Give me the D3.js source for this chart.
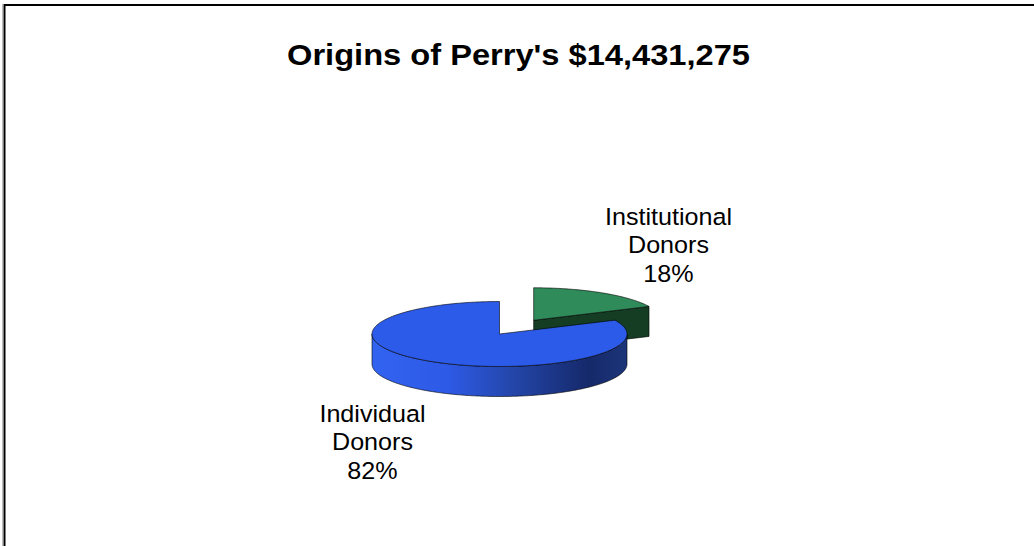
<!DOCTYPE html>
<html>
<head>
<meta charset="utf-8">
<script src="https://cdn.jsdelivr.net/npm/d3@7"></script>
<style>
  html, body { margin: 0; padding: 0; background: #fff; }
  svg { display: block; }
  text { font-family: "Liberation Sans", Arial, sans-serif; fill: #000; }
</style>
</head>
<body>
<svg id="chart" width="1034" height="546"></svg>
<script>
// ---- data ----
const title = "Origins of Perry's $14,431,275";
const categories = ["Institutional Donors", "Individual Donors"];
const labelLines = [["Institutional", "Donors", "18%"], ["Individual", "Donors", "82%"]];
const values = [18, 82];
const explode = [0.5, 0];

// ---- layout ----
const W = 1034, H = 546;
const cx = 499.5, cy = 334, rx = 127.5, ry = 32.5, depth = 30;
const topColors = ["#2f8b5a", "#2d5be9"];
const sideColors = ["#143d24", "url(#blueSide)"];
const labelPos = [{x: 668.5, y: 225}, {x: 372.5, y: 422}];
const lineH = 28.5;

const svg = d3.select("#chart");

// frame
svg.append("rect").attr("x", 0).attr("y", 0).attr("width", W).attr("height", H).attr("fill", "#fff");
svg.append("line").attr("x1", 2.5).attr("x2", 2.5).attr("y1", 4).attr("y2", H).attr("stroke", "#bbb").attr("stroke-width", 1);
svg.append("line").attr("x1", 4.5).attr("x2", 4.5).attr("y1", 4).attr("y2", H).attr("stroke", "#000").attr("stroke-width", 2);
svg.append("line").attr("x1", 4).attr("x2", W).attr("y1", 5).attr("y2", 5).attr("stroke", "#000").attr("stroke-width", 2);

// title
svg.append("text")
  .attr("x", 518.5).attr("y", 64.5)
  .attr("text-anchor", "middle")
  .attr("font-size", 29.5).attr("font-weight", "bold")
  .attr("textLength", 463).attr("lengthAdjust", "spacingAndGlyphs")
  .text(title);

// gradient for blue side
const defs = svg.append("defs");
const grad = defs.append("linearGradient").attr("id", "blueSide")
  .attr("gradientUnits", "userSpaceOnUse")
  .attr("x1", cx - rx).attr("x2", cx + rx).attr("y1", 0).attr("y2", 0);
[[0, "#3263f0"], [0.3, "#2d5ae6"], [0.55, "#2446aa"], [0.85, "#15296a"], [1, "#1c3579"]]
  .forEach(([o, c]) => grad.append("stop").attr("offset", o).attr("stop-color", c));

// pie
const pie = d3.pie().sort(null).value(d => d)(values);

// projection scales of the unit disc onto the tilted ellipse
const sx = d3.scaleLinear().domain([-1, 1]).range([cx - rx, cx + rx]);
const sy = d3.scaleLinear().domain([-1, 1]).range([cy - ry, cy + ry]);

function pt(a, r, off) {
  return [sx(off[0] + r * Math.sin(a)), sy(off[1] - r * Math.cos(a))];
}
function arcPts(a0, a1, off, dy) {
  const n = Math.max(8, Math.ceil(Math.abs(a1 - a0) / 0.02));
  return d3.range(n + 1).map(i => {
    const a = a0 + (a1 - a0) * i / n;
    const p = pt(a, 1, off);
    return [p[0], p[1] + (dy || 0)];
  });
}
const line = d3.line();

const slices = pie.map((d, i) => {
  const mid = (d.startAngle + d.endAngle) / 2;
  const off = [explode[i] * Math.sin(mid), -explode[i] * Math.cos(mid)];
  return {d, i, off};
});

const g = svg.append("g").attr("stroke", "rgba(0,0,0,0.75)").attr("stroke-width", 0.8).attr("stroke-linejoin", "round");

function drawSlice(s) {
  const {d, i, off} = s;
  const apex = pt(0, 0, off);
  [d.startAngle, d.endAngle].forEach((a, k) => {
    const nrm = k === 0 ? a - Math.PI / 2 : a + Math.PI / 2;
    const facing = -Math.cos(nrm);
    if (facing > 0.01) {
      const p = pt(a, 1, off);
      g.append("path")
        .attr("d", line([apex, p, [p[0], p[1] + depth], [apex[0], apex[1] + depth]]) + "Z")
        .attr("fill", i === 0 ? sideColors[0] : "#1d3a9a");
    }
  });
  const f0 = Math.max(d.startAngle, Math.PI / 2), f1 = Math.min(d.endAngle, 3 * Math.PI / 2);
  if (f1 > f0) {
    const topEdge = arcPts(f0, f1, off, 0);
    const botEdge = arcPts(f1, f0, off, depth);
    g.append("path")
      .attr("d", line(topEdge.concat(botEdge)) + "Z")
      .attr("fill", sideColors[i]);
  }
  const top = [apex].concat(arcPts(d.startAngle, d.endAngle, off, 0));
  g.append("path").attr("d", line(top) + "Z").attr("fill", topColors[i]);
}

slices.forEach(drawSlice);

// labels (slightly widened to match the reference's horizontal stretch)
labelLines.forEach((lines, i) => {
  const t = svg.append("text")
    .attr("text-anchor", "middle")
    .attr("font-size", 23.5)
    .attr("transform", `translate(${labelPos[i].x},${labelPos[i].y}) scale(1.07,1)`);
  lines.forEach((ln, k) => {
    t.append("tspan").attr("x", 0).attr("y", k * lineH).text(ln);
  });
});
</script>
</body>
</html>
